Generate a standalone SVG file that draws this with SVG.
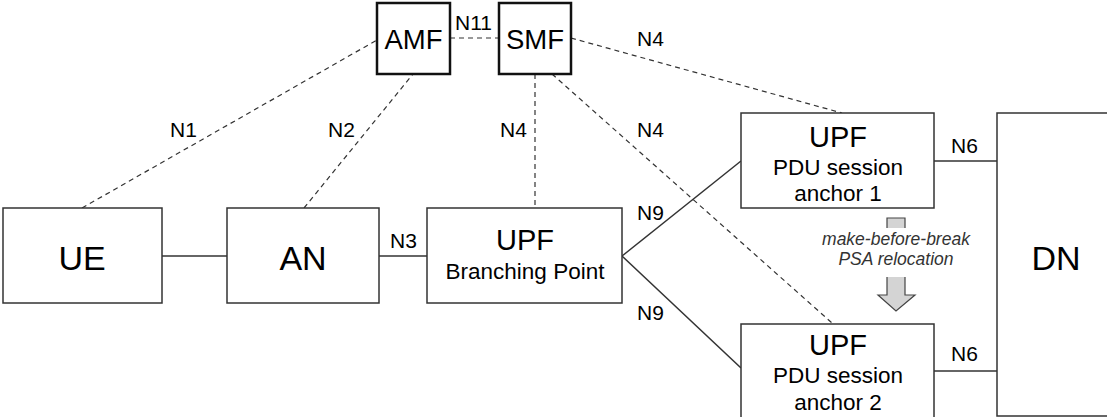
<svg xmlns="http://www.w3.org/2000/svg" width="1107" height="417" viewBox="0 0 1107 417">
<style>
.box{fill:#fff;stroke:#333;stroke-width:1.5}
.fbox{fill:#fff;stroke:#111;stroke-width:2.5}
.solid{stroke:#333;stroke-width:1.5;fill:none}
.dash{stroke:#333;stroke-width:1.2;fill:none;stroke-dasharray:5,4}
text{font-family:"Liberation Sans",Arial,sans-serif;fill:#000}
.big{font-size:34px}
.nf{font-size:27.5px}
.upf{font-size:29px}
.sub{font-size:22.5px}
.lbl{font-size:21px}
.it{font-size:17.5px;font-style:italic;fill:#333}
</style>
<rect width="1107" height="417" fill="#fff"/>
<g id="connectors">
<line class="dash" x1="450" y1="38" x2="499" y2="38"/>
<line class="dash" x1="82" y1="208" x2="377" y2="40"/>
<line class="dash" x1="304" y1="208" x2="413" y2="74"/>
<line class="dash" x1="535" y1="74" x2="535" y2="208"/>
<line class="dash" x1="552" y1="74" x2="832" y2="323"/>
<line class="dash" x1="571" y1="38" x2="842" y2="113"/>
<line class="solid" x1="162" y1="256" x2="227" y2="256"/>
<line class="solid" x1="379" y1="256" x2="427" y2="256"/>
<line class="solid" x1="622" y1="256" x2="741" y2="161"/>
<line class="solid" x1="622" y1="256" x2="741" y2="368"/>
<line class="solid" x1="934" y1="161" x2="997" y2="161"/>
<line class="solid" x1="934" y1="371" x2="997" y2="371"/>
<text class="lbl" x="455" y="30">N11</text>
<text class="lbl" x="170" y="137">N1</text>
<text class="lbl" x="328" y="137">N2</text>
<text class="lbl" x="500" y="137">N4</text>
<text class="lbl" x="637" y="137">N4</text>
<text class="lbl" x="637" y="46">N4</text>
<text class="lbl" x="390" y="248">N3</text>
<text class="lbl" x="637" y="220">N9</text>
<text class="lbl" x="637" y="320">N9</text>
<text class="lbl" x="951" y="153">N6</text>
<text class="lbl" x="951" y="361">N6</text>
</g>
<g id="relocation">
<path d="M887,218 H905 V295 H915 L896,311 L878,295 H887 Z" fill="#d4d4d4" stroke="#444" stroke-width="1.2"/>
<rect x="818" y="228" width="156" height="49" fill="#fff"/>
<text class="it" x="896" y="245" text-anchor="middle">make-before-break</text>
<text class="it" x="896" y="265" text-anchor="middle">PSA relocation</text>
</g>
<g id="AMF">
<rect class="fbox" x="377" y="3" width="73" height="71"/>
<text class="nf" x="413.5" y="49" text-anchor="middle">AMF</text>
</g>
<g id="SMF">
<rect class="fbox" x="499" y="3" width="72" height="71"/>
<text class="nf" x="535" y="49" text-anchor="middle">SMF</text>
</g>
<g id="UE">
<rect class="box" x="3" y="208" width="159" height="95"/>
<text class="big" x="82" y="270" text-anchor="middle">UE</text>
</g>
<g id="AN">
<rect class="box" x="227" y="208" width="152" height="95"/>
<text class="big" x="303" y="270" text-anchor="middle">AN</text>
</g>
<g id="UPF_BP">
<rect class="box" x="427" y="208" width="195" height="95"/>
<text class="upf" x="525" y="250" text-anchor="middle">UPF</text>
<text class="sub" x="525" y="279" text-anchor="middle">Branching Point</text>
</g>
<g id="UPF_PSA1">
<rect class="box" x="741" y="113" width="193" height="95"/>
<text class="upf" x="838" y="147" text-anchor="middle">UPF</text>
<text class="sub" x="838" y="175" text-anchor="middle">PDU session</text>
<text class="sub" x="838" y="201" text-anchor="middle">anchor 1</text>
</g>
<g id="UPF_PSA2">
<rect class="box" x="741" y="324" width="193" height="100"/>
<text class="upf" x="838" y="355" text-anchor="middle">UPF</text>
<text class="sub" x="838" y="383" text-anchor="middle">PDU session</text>
<text class="sub" x="838" y="410" text-anchor="middle">anchor 2</text>
</g>
<g id="DN">
<rect class="box" x="997" y="113" width="120" height="303"/>
<text class="big" x="1056" y="270" text-anchor="middle">DN</text>
</g>
</svg>
